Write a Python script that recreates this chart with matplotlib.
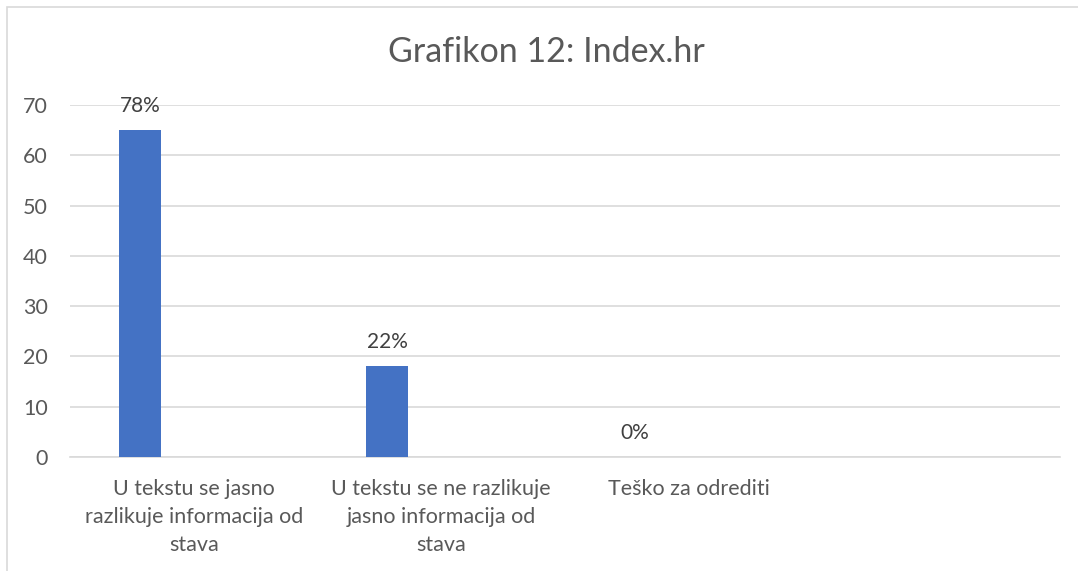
import matplotlib
matplotlib.use("Agg")
import matplotlib.pyplot as plt
from matplotlib.patches import Rectangle

title = "Grafikon 12: Index.hr"
categories = ["U tekstu se jasno\nrazlikuje informacija od\nstava",
              "U tekstu se ne razlikuje\njasno informacija od\nstava",
              "Teško za odrediti",
              ""]
values = [65, 18, 0]
labels = ["78%", "22%", "0%"]
yticks = [0, 10, 20, 30, 40, 50, 60, 70]

plt.rcParams['font.family'] = ['Lato', 'DejaVu Sans']
W, H = 1078, 571
fig = plt.figure(figsize=(W / 100, H / 100), dpi=100)
ax = fig.add_axes([70 / W, 1 - 457 / H, 990 / W, 352 / H])

grey = "#595959"
bar_off = -0.218
bar_w = 0.17
xs = [i + bar_off for i in range(len(values))]
bars = ax.bar(xs, values, width=bar_w, color="#4472C4", zorder=3)
for x, v, lab in zip(xs, values, labels):
    ax.annotate(lab, (x, v), xytext=(0, 17.5), textcoords="offset points",
                ha="center", va="center", fontsize=15, color="#404040")

ax.set_xlim(-0.5, len(categories) - 0.5)
ax.set_ylim(0, 70)
ax.set_yticks(yticks)
ax.set_xticks(range(len(categories)))
ax.set_xticklabels(categories, fontsize=15.5, color=grey, linespacing=1.5,
                   va="top")
ax.tick_params(axis="x", length=0, pad=15.5)
ax.tick_params(axis="y", length=0, pad=16, labelsize=15.5, labelcolor=grey)
ax.grid(axis="y", color="#d9d9d9", linewidth=1.2, zorder=0)
for s in ["top", "right", "left"]:
    ax.spines[s].set_visible(False)
ax.spines["bottom"].set_color("#d9d9d9")
ax.spines["bottom"].set_linewidth(1.2)

fig.text(546 / W, 1 - 52 / H, title, ha="center", va="center",
         fontsize=24.5, color=grey, family=['Lato', 'DejaVu Sans'])

fig.patches.append(Rectangle((7 / W, -0.1), 1.2, 1 - 7 / H + 0.1,
                             transform=fig.transFigure, fill=False,
                             edgecolor="#d9d9d9", linewidth=1.2))

fig.savefig("out.png", dpi=100, facecolor="white")
